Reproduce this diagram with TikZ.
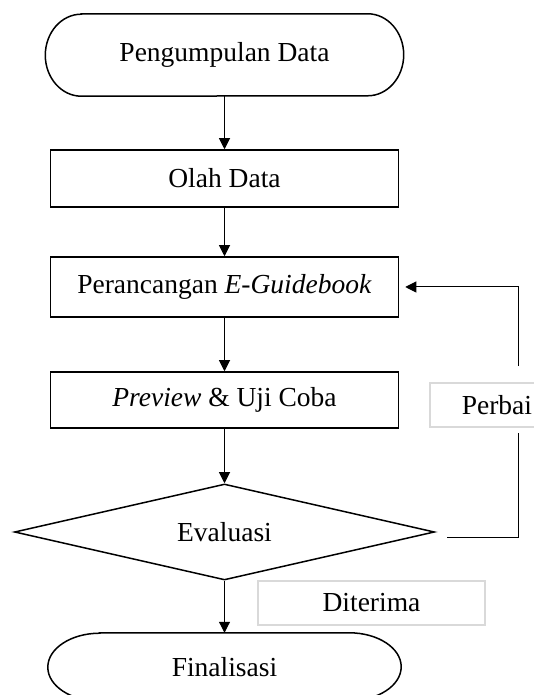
\documentclass[tikz,border=0pt]{standalone}
\usepackage{fontspec}
\setmainfont{Liberation Serif}
\usetikzlibrary{arrows.meta,shapes.geometric}

\begin{document}
\begin{tikzpicture}[x=1pt,y=1pt,font=\fontsize{27.5}{32}\selectfont]
\useasboundingbox (0,0) rectangle (534,695);
\clip (0,0) rectangle (534,695);
% terminals: plain nodes, outline drawn with elliptic ends
\node[minimum width=358pt,minimum height=82pt,inner sep=0pt] (fc_start) at (224.5,640) {Pengumpulan Data};
\draw[line width=1.5pt] ([xshift=36pt]fc_start.north west) -- ([xshift=-36pt]fc_start.north east) arc[start angle=90,end angle=-90,x radius=36pt,y radius=41pt] -- ([xshift=36pt]fc_start.south west) arc[start angle=270,end angle=90,x radius=36pt,y radius=41pt] -- cycle;
\node[draw,line width=1.5pt,minimum width=348pt,minimum height=57pt,inner sep=0pt] (fc_olah) at (224.5,516.5) {Olah Data};
\node[draw,line width=1.5pt,minimum width=348pt,minimum height=60pt,inner sep=0pt] (fc_rancang) at (224.5,408) {Perancangan \textit{E-Guidebook}};
\node[draw,line width=1.5pt,minimum width=348pt,minimum height=56pt,inner sep=0pt] (fc_preview) at (224.5,295) {\textit{Preview} \& Uji Coba};
\node[draw,diamond,aspect=4.375,line width=1.5pt,minimum width=420pt,minimum height=96pt,inner sep=0pt] (fc_eval) at (224.5,163) {\raisebox{-5pt}{Evaluasi}};
\node[minimum width=353pt,minimum height=68pt,inner sep=0pt] (fc_final) at (224.5,28) {Finalisasi};
\draw[line width=1.5pt] ([xshift=52pt]fc_final.north west) -- ([xshift=-52pt]fc_final.north east) arc[start angle=90,end angle=-90,x radius=52pt,y radius=34pt] -- ([xshift=52pt]fc_final.south west) arc[start angle=270,end angle=90,x radius=52pt,y radius=34pt] -- cycle;
% labels
\node[draw=black!15,line width=1.5pt,minimum width=227pt,minimum height=44pt,inner sep=0pt] (lbl_terima) at (371.5,92) {Diterima};
\node[draw=black!15,line width=1.5pt,anchor=west,minimum height=44pt,text width=120pt,inner xsep=32pt,inner ysep=0pt,align=left] (lbl_perbaiki) at (429,290) {Perbai};
% connectors
\draw[line width=1pt,-{Triangle[length=11pt,width=11pt]}] (fc_start.south) -- (fc_olah.north);
\draw[line width=1pt,-{Triangle[length=11pt,width=11pt]}] (fc_olah.south) -- (fc_rancang.north);
\draw[line width=1pt,-{Triangle[length=11pt,width=11pt]}] (fc_rancang.south) -- (fc_preview.north);
\draw[line width=1pt,-{Triangle[length=11pt,width=11pt]}] (fc_preview.south) -- (fc_eval.north);
\draw[line width=1pt,-{Triangle[length=11pt,width=11pt]}] (fc_eval.south) -- (fc_final.north);
\coordinate (fb_low) at (518,157);
\coordinate (fb_up) at (518,408);
\draw[line width=1pt] ([xshift=12pt,yshift=-6pt]fc_eval.east) -- (fb_low) -- ([yshift=-5pt]fb_low |- lbl_perbaiki.south);
\draw[line width=1pt,-{Triangle[length=11pt,width=11pt]}] ([yshift=16pt]fb_up |- lbl_perbaiki.north) -- (fb_up) -- ([xshift=6pt]fc_rancang.east);
\end{tikzpicture}
\end{document}
